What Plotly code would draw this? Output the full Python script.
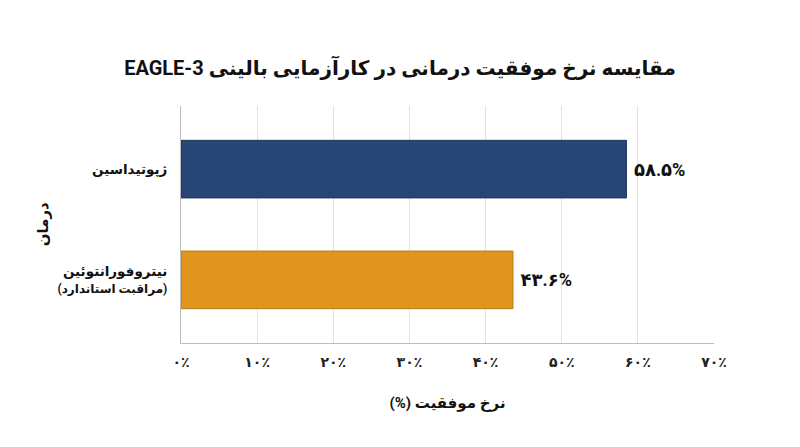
import plotly.graph_objects as go

# data
treatments = ["ژپوتیداسین", "نیتروفورانتوئین"]
treatment_notes = ["", "(مراقبت استاندارد)"]
success_rate = [58.5, 43.6]
bar_labels = ["۵۸.۵%", "۴۳.۶%"]
bar_colors = ["#274675", "#e0951f"]
bar_edges = ["#1d355c", "#b87a1a"]
x_ticks = [0, 10, 20, 30, 40, 50, 60, 70]
x_tick_text = ["۰٪", "۱۰٪", "۲۰٪", "۳۰٪", "۴۰٪", "۵۰٪", "۶۰٪", "۷۰٪"]

font_family = "Roboto, DejaVu Sans, sans-serif"


def rtl(s):
    # wrap in a right-to-left embedding so mixed text is ordered correctly
    return "\u202b" + s + "\u202c"


y_labels = []
for name, note in zip(treatments, treatment_notes):
    label = "<b>" + rtl(name) + "</b>"
    if note:
        label += "<br><span style='font-size:12px'><b>" + rtl(note) + "</b></span>"
    y_labels.append(label)

fig = go.Figure(go.Bar(
    x=success_rate,
    y=y_labels,
    orientation='h',
    marker=dict(color=bar_colors, line=dict(color=bar_edges, width=1)),
    width=0.52,
    text=["<b>\u00a0" + t + "</b>" for t in bar_labels],
    textposition='outside',
    textfont=dict(size=18, color='#111', family=font_family),
    cliponaxis=False,
))

# the page body adds an 8px offset, so margins are shifted to compensate
fig.update_layout(
    width=800,
    height=447,
    margin=dict(l=173, r=94, t=98, b=112),
    paper_bgcolor='white',
    plot_bgcolor='white',
    font=dict(family=font_family, color='#222'),
    showlegend=False,
    title=dict(
        text="<b>" + rtl("مقایسه نرخ موفقیت درمانی در کارآزمایی بالینی EAGLE-3") + "</b>",
        x=0.49, xanchor='center', y=0.866, yanchor='middle',
        font=dict(size=20, color='#111'),
    ),
)

fig.update_xaxes(
    range=[0, 70],
    tickvals=x_ticks,
    ticktext=["<b>" + t + "</b>" for t in x_tick_text],
    tickfont=dict(size=14, color='#222'),
    ticklabelstandoff=6,
    showgrid=True,
    gridcolor='#e2e2e2',
    gridwidth=1,
    showline=True,
    linecolor='#bdbdbd',
    linewidth=1,
    zeroline=False,
    title=dict(text="<b>" + rtl("نرخ موفقیت (%)") + "</b>",
               font=dict(size=15, color='#111'), standoff=28),
)

fig.update_yaxes(
    type='category',
    range=[1.57, -0.57],
    tickfont=dict(size=13.5, color='#111'),
    ticklabelstandoff=10,
    showgrid=False,
    showline=True,
    linecolor='#bdbdbd',
    linewidth=1,
)

fig.add_annotation(
    text="<b>" + rtl("درمان") + "</b>", textangle=-90,
    xref='paper', yref='paper', x=-0.28, y=0.5,
    showarrow=False, font=dict(size=15, color='#111'),
)

fig.write_html("out.html")
